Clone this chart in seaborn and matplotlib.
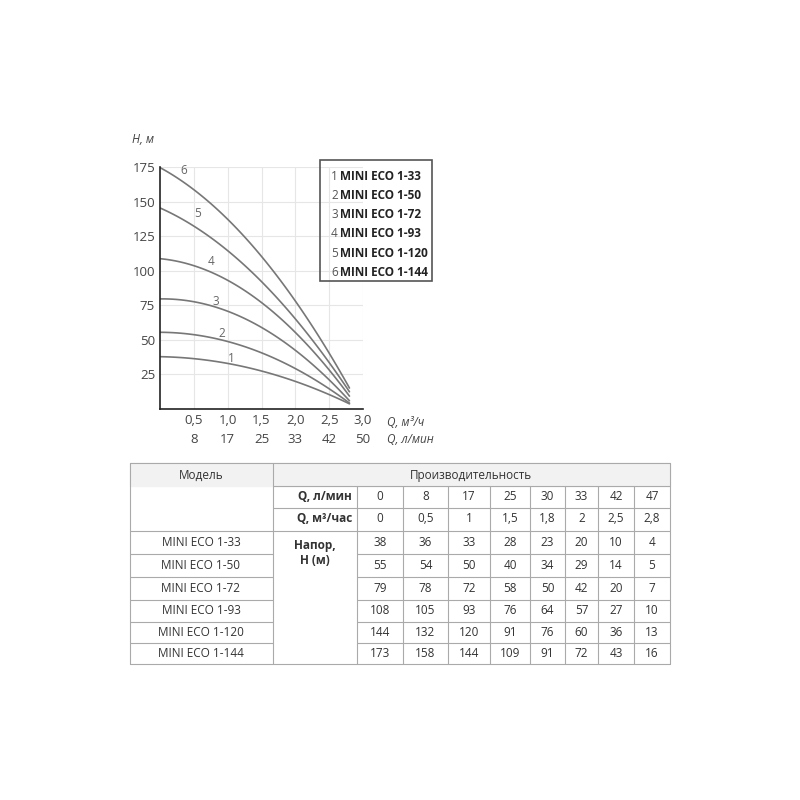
import matplotlib
matplotlib.use("Agg")
import matplotlib.pyplot as plt
import seaborn as sns
import pandas as pd
from matplotlib.lines import Line2D

sns.set_style("white")
plt.rcParams['font.family'] = ['Open Sans', 'DejaVu Sans']

q_lmin = [0, 8, 17, 25, 30, 33, 42, 47]
q_m3 = [0, 0.5, 1, 1.5, 1.8, 2, 2.5, 2.8]
q_m3_lbl = ["0", "0,5", "1", "1,5", "1,8", "2", "2,5", "2,8"]
models = ["MINI ECO 1-33", "MINI ECO 1-50", "MINI ECO 1-72", "MINI ECO 1-93", "MINI ECO 1-120", "MINI ECO 1-144"]
heads = [
    [38, 36, 33, 28, 23, 20, 10, 4],
    [55, 54, 50, 40, 34, 29, 14, 5],
    [79, 78, 72, 58, 50, 42, 20, 7],
    [108, 105, 93, 76, 64, 57, 27, 10],
    [144, 132, 120, 91, 76, 60, 36, 13],
    [173, 158, 144, 109, 91, 72, 43, 16],
]
xt = [0.5, 1.0, 1.5, 2.0, 2.5, 3.0]
xt_lbl = ["0,5", "1,0", "1,5", "2,0", "2,5", "3,0"]
xt2_lbl = ["8", "17", "25", "33", "42", "50"]
yt = [25, 50, 75, 100, 125, 150, 175]
label_pos = [(1.05, 32), (0.92, 50), (0.82, 73), (0.75, 102), (0.55, 137), (0.35, 168)]

W = H = 800
fig = plt.figure(figsize=(8, 8), dpi=100)
def fx(p): return p / W
def fy(p): return 1 - p / H

ax = fig.add_axes([fx(160), fy(409), fx(363) - fx(160), fy(167) - fy(409)])
for i, m in enumerate(models):
    d = pd.DataFrame({"Q": q_m3, "H": heads[i]})
    sns.regplot(data=d, x="Q", y="H", order=2, scatter=False, ci=None, truncate=True,
                line_kws=dict(color="#777777", lw=1.2), ax=ax)
ax.set_xlim(0, 3.0)
ax.set_ylim(0, 175)
ax.set_xticks(xt)
ax.set_xticklabels(xt_lbl)
ax.set_yticks(yt)
ax.grid(True, color="#e6e6e6", lw=0.8)
for s in ["top", "right"]:
    ax.spines[s].set_visible(False)
for s in ["left", "bottom"]:
    ax.spines[s].set_color("#222222"); ax.spines[s].set_linewidth(1.2)
ax.tick_params(length=0, labelsize=9.5, colors="#444444")
ax.set_xlabel(""); ax.set_ylabel("")
for j, l in enumerate(xt2_lbl):
    ax.text(xt[j], -0.1, l, transform=ax.get_xaxis_transform(), ha="center", va="top", fontsize=9.5, color="#444444")
ax.text(1.12, -0.03, "Q, м³/ч", transform=ax.transAxes, fontsize=8.5, style="italic", color="#444444", va="top")
ax.text(1.12, -0.1, "Q, л/мин", transform=ax.transAxes, fontsize=8.5, style="italic", color="#444444", va="top")
ax.text(-0.14, 1.1, "H, м", transform=ax.transAxes, fontsize=8.5, style="italic", color="#444444")
for i, (x, y) in enumerate(label_pos):
    ax.text(x, y, str(i + 1), fontsize=8.5, color="#666666", ha="center", va="bottom")

# legend box
fig.patches.append(plt.Rectangle((fx(320), fy(281)), fx(432) - fx(320), fy(160) - fy(281),
                                 transform=fig.transFigure, fill=False, ec="#555555", lw=1.2))
for i, m in enumerate(models):
    y = 176 + i * 19.3
    fig.text(fx(331), fy(y), str(i + 1), fontsize=8.5, color="#555555", va="center")
    fig.text(fx(340), fy(y), m, fontsize=8.5, color="#222222", weight="bold", va="center")

# table
lc = "#aaaaaa"
def hl(y, x0, x1):
    fig.add_artist(Line2D([fx(x0), fx(x1)], [fy(y), fy(y)], color=lc, lw=0.8))
def vl(x, y0, y1):
    fig.add_artist(Line2D([fx(x), fx(x)], [fy(y0), fy(y1)], color=lc, lw=0.8))
cols = [357, 403, 448, 490, 530, 565, 598, 634, 670]
rb = [463, 486, 508, 531, 554, 577, 600, 622, 643, 664]
fig.patches.append(plt.Rectangle((fx(130), fy(486)), fx(670) - fx(130), fy(463) - fy(486),
                                 transform=fig.transFigure, color="#f2f2f2", zorder=-1))
hl(463, 130, 670); hl(486, 273, 670); hl(508, 273, 670)
for y in rb[3:]:
    hl(y, 130, 273)
    hl(y, 357, 670)
hl(531, 273, 357); hl(664, 273, 357)
vl(130, 463, 664); vl(273, 463, 664)
for x in cols[:-1]:
    vl(x, 486, 664)
vl(670, 463, 664)
fs = 8.5
fig.text(fx(201), fy(475), "Модель", ha="center", va="center", fontsize=fs, color="#333")
fig.text(fx(471), fy(475), "Производительность", ha="center", va="center", fontsize=fs, color="#333")
fig.text(fx(352), fy(497), "Q, л/мин", ha="right", va="center", fontsize=fs, weight="bold", color="#333")
fig.text(fx(352), fy(519), "Q, м³/час", ha="right", va="center", fontsize=fs, weight="bold", color="#333")
fig.text(fx(315), fy(553), "Напор,\nH (м)", ha="center", va="center", fontsize=fs, weight="bold", color="#333", linespacing=1.3)
cx = [(cols[k] + cols[k + 1]) / 2 for k in range(8)]
for k in range(8):
    fig.text(fx(cx[k]), fy(497), str(q_lmin[k]), ha="center", va="center", fontsize=fs, color="#333")
    fig.text(fx(cx[k]), fy(519), q_m3_lbl[k], ha="center", va="center", fontsize=fs, color="#333")
for i, m in enumerate(models):
    yc = (rb[3 + i] + rb[4 + i]) / 2
    fig.text(fx(201), fy(yc), m, ha="center", va="center", fontsize=fs, color="#333")
    for k in range(8):
        fig.text(fx(cx[k]), fy(yc), str(heads[i][k]), ha="center", va="center", fontsize=fs, color="#333")

fig.savefig("out.png", dpi=100)
